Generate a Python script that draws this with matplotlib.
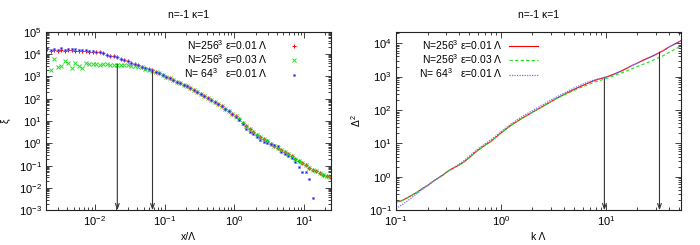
import numpy as np
import matplotlib
matplotlib.use('Agg')
import matplotlib.pyplot as plt
from matplotlib.ticker import LogLocator, LogFormatterMathtext, NullFormatter

plt.rcParams['font.family'] = ['Liberation Sans', 'DejaVu Sans']
plt.rcParams['mathtext.fontset'] = 'custom'
plt.rcParams['mathtext.rm'] = 'Liberation Sans'
plt.rcParams['mathtext.it'] = 'Liberation Sans:italic'
plt.rcParams['mathtext.default'] = 'regular'
plt.rcParams['font.size'] = 7.5

RED = '#ff0000'
GREEN = '#22e022'
BLUE = '#1a1aff'
ARROW = '#333333'

TITLE = 'n=-1 κ=1'
LABELS = [r'N=256$^3$ ε=0.01 Λ', r'N=256$^3$ ε=0.03 Λ', r'N= 64$^3$   ε=0.01 Λ']

# left panel, log10 values
log_x = [-2.68, -2.63, -2.58, -2.53, -2.48, -2.43, -2.38, -2.33, -2.28, -2.23,
         -2.18, -2.13, -2.08, -2.03, -1.98, -1.93, -1.88, -1.83, -1.78, -1.73,
         -1.68, -1.63, -1.58, -1.53, -1.48, -1.43, -1.38, -1.33, -1.28, -1.23,
         -1.18, -1.13, -1.08, -1.03, -0.98, -0.93, -0.88, -0.83, -0.78, -0.73,
         -0.68, -0.63, -0.58, -0.53, -0.48, -0.43, -0.38, -0.33, -0.28, -0.23,
         -0.18, -0.13, -0.08, -0.03, 0.02, 0.07, 0.12, 0.17, 0.22, 0.27,
         0.32, 0.37, 0.42, 0.47, 0.52, 0.57, 0.62, 0.67, 0.72, 0.77,
         0.82, 0.87, 0.92, 0.97, 1.02, 1.07, 1.12, 1.17, 1.22, 1.27,
         1.32, 1.37]

log_xi_256_001 = [4.22, 4.14, 4.16, 4.12, 4.19, 4.14, 4.17, 4.16, 4.15, 4.13,
                  4.13, 4.13, 4.11, 4.11, 4.10, 4.07, 4.03, 3.97, 3.93, 3.89,
                  3.85, 3.79, 3.73, 3.67, 3.60, 3.55, 3.49, 3.43, 3.36, 3.32,
                  3.27, 3.21, 3.14, 3.06, 2.99, 2.91, 2.84, 2.76, 2.69, 2.63,
                  2.55, 2.46, 2.37, 2.28, 2.19, 2.10, 2.01, 1.92, 1.84, 1.75,
                  1.65, 1.55, 1.44, 1.33, 1.22, 1.08, 0.92, 0.78, 0.63, 0.50,
                  0.39, 0.29, 0.18, 0.09, -0.02, -0.13, -0.23, -0.31, -0.40, -0.48,
                  -0.58, -0.69, -0.80, -0.90, -0.99, -1.09, -1.18, -1.25, -1.32, -1.40,
                  -1.46, -1.52]

log_xi_256_003 = [np.nan, 3.30, 3.76, 3.43, 3.45, 3.69, 3.62, 3.37, 3.58, 3.47,
                  3.39, 3.60, 3.55, 3.57, 3.54, 3.53, 3.55, 3.54, 3.53, 3.53,
                  3.53, 3.52, 3.51, 3.50, 3.48, 3.46, 3.43, 3.40, 3.35, 3.30,
                  3.25, 3.20, 3.14, 3.06, 2.99, 2.91, 2.84, 2.76, 2.69, 2.63,
                  2.55, 2.46, 2.37, 2.28, 2.19, 2.10, 2.01, 1.92, 1.84, 1.75,
                  1.65, 1.55, 1.44, 1.33, 1.22, 1.08, 0.92, 0.78, 0.63, 0.50,
                  0.39, 0.29, 0.18, 0.09, -0.02, -0.13, -0.23, -0.31, -0.40, -0.48,
                  -0.58, -0.69, -0.80, -0.90, -0.99, -1.09, -1.18, -1.25, -1.32, -1.40,
                  -1.46, -1.52]

log_xi_64_001 = [4.29, 4.20, 4.23, 4.18, 4.29, 4.20, 4.23, 4.23, 4.21, 4.18,
                 4.17, 4.17, 4.14, 4.13, 4.11, 4.08, 4.04, 3.97, 3.93, 3.89,
                 3.85, 3.79, 3.73, 3.67, 3.60, 3.55, 3.49, 3.43, 3.36, 3.32,
                 3.27, 3.21, 3.14, 3.06, 2.99, 2.91, 2.84, 2.76, 2.69, 2.63,
                 2.55, 2.46, 2.37, 2.28, 2.19, 2.10, 2.01, 1.92, 1.84, 1.75,
                 1.65, 1.55, 1.44, 1.33, 1.20, 1.03, 0.85, 0.65, 0.50, 0.40,
                 0.30, 0.17, 0.07, 0.00, -0.05, -0.09, -0.14, -0.38, -0.47, -0.56,
                 -0.67, -0.85, -1.04, -1.29, -1.29, -1.60, -2.46]

xi_arrow_x = [0.021, 0.067]
xi_arrow_top = [3.6e3, 1.7e3]

# right panel
log_k = [-1.00, -0.95, -0.90, -0.85, -0.80, -0.75, -0.70, -0.65, -0.60, -0.55,
         -0.50, -0.45, -0.40, -0.35, -0.30, -0.25, -0.20, -0.15, -0.10, -0.05,
         0.00, 0.05, 0.10, 0.15, 0.20, 0.25, 0.30, 0.35, 0.40, 0.45,
         0.50, 0.55, 0.60, 0.65, 0.70, 0.75, 0.80, 0.85, 0.90, 0.95,
         1.00, 1.05, 1.10, 1.15, 1.20, 1.25, 1.30, 1.35, 1.40, 1.45,
         1.50, 1.55, 1.60, 1.65, 1.72]

log_d2_256_001 = [-0.75, -0.72, -0.64, -0.55, -0.46, -0.35, -0.26, -0.14, -0.04, 0.06,
                  0.18, 0.27, 0.35, 0.45, 0.58, 0.72, 0.84, 0.95, 1.05, 1.18,
                  1.31, 1.43, 1.55, 1.65, 1.75, 1.84, 1.93, 2.02, 2.11, 2.20,
                  2.29, 2.38, 2.46, 2.54, 2.62, 2.69, 2.76, 2.83, 2.89, 2.94,
                  2.98, 3.04, 3.10, 3.17, 3.25, 3.33, 3.40, 3.48, 3.55, 3.62,
                  3.70, 3.78, 3.88, 3.96, 4.08]

log_d2_256_003 = [-0.75, -0.72, -0.64, -0.55, -0.46, -0.35, -0.26, -0.14, -0.04, 0.06,
                  0.18, 0.27, 0.35, 0.45, 0.58, 0.72, 0.84, 0.95, 1.05, 1.18,
                  1.31, 1.43, 1.55, 1.65, 1.75, 1.84, 1.93, 2.02, 2.11, 2.20,
                  2.29, 2.37, 2.45, 2.52, 2.59, 2.66, 2.72, 2.78, 2.84, 2.89,
                  2.94, 2.99, 3.05, 3.11, 3.17, 3.24, 3.30, 3.36, 3.42, 3.49,
                  3.56, 3.63, 3.72, 3.80, 3.92]

log_d2_64_001 = [-0.95, -0.85, -0.74, -0.62, -0.50, -0.38, -0.27, -0.15, -0.04, 0.07,
                 0.18, 0.28, 0.38, 0.49, 0.62, 0.76, 0.88, 0.99, 1.10, 1.22,
                 1.35, 1.47, 1.59, 1.70, 1.80, 1.89, 1.98, 2.07, 2.16, 2.25,
                 2.34, 2.42, 2.50, 2.58, 2.66, 2.73, 2.80, 2.86, 2.91, 2.95,
                 2.99, 3.04, 3.10, 3.17, 3.25, 3.33, 3.40, 3.48, 3.55, 3.62,
                 3.70, 3.78, 3.88, 3.96, 4.08]

d2_arrow_x = [9.7, 32.5]
d2_arrow_top = [870, 5.4e3]


def style_log_axes(ax):
    for axis in (ax.xaxis, ax.yaxis):
        axis.set_major_locator(LogLocator(base=10, numticks=20))
        axis.set_minor_locator(LogLocator(base=10, subs=np.arange(2, 10), numticks=20))
        axis.set_major_formatter(LogFormatterMathtext())
        axis.set_minor_formatter(NullFormatter())
    ax.tick_params(which='both', direction='in', top=True, right=True,
                   width=0.6, colors='#222222', labelcolor='black', labelsize=8)
    ax.tick_params(which='major', length=4.5, pad=3)
    ax.tick_params(which='minor', length=2.5)
    for s in ax.spines.values():
        s.set_linewidth(0.8)
        s.set_color('#222222')


def draw_arrows(ax, xs, tops, bottom):
    for x, top in zip(xs, tops):
        ax.annotate('', xy=(x, bottom), xytext=(x, top),
                    arrowprops=dict(arrowstyle='->,head_length=0.5,head_width=0.18',
                                    color=ARROW, lw=0.8, shrinkA=0, shrinkB=0))


fig = plt.figure(figsize=(7, 2.45), dpi=100)
ax1 = fig.add_axes([0.0657, 0.1416, 0.407, 0.729])
ax2 = fig.add_axes([0.5657, 0.1416, 0.407, 0.729])

# left: xi(x)
x = 10 ** np.array(log_x)
ax1.plot(x, 10 ** np.array(log_xi_256_001), ls='none', marker='+', ms=2.5, mew=0.7,
         color=RED, label=LABELS[0])
ax1.plot(x, 10 ** np.array(log_xi_256_003), ls='none', marker='x', ms=2.2, mew=0.7,
         color=GREEN, label=LABELS[1])
ax1.plot(x[:len(log_xi_64_001)], 10 ** np.array(log_xi_64_001), ls='none', marker='s',
         ms=1.8, mew=0.4, color=BLUE, mec='#7f7fff', label=LABELS[2])
ax1.set_xscale('log')
ax1.set_yscale('log')
ax1.set_xlim(0.002, 24)
ax1.set_ylim(1e-3, 1e5)
style_log_axes(ax1)
draw_arrows(ax1, xi_arrow_x, xi_arrow_top, 1e-3)
ax1.set_title(TITLE, fontsize=7.5, pad=10)
ax1.set_xlabel('x/Λ', labelpad=3)
ax1.set_ylabel('ξ', labelpad=6)
ax1.legend(loc='upper right', bbox_to_anchor=(0.91, 1.0), frameon=False, markerfirst=False,
           handlelength=1.0, handletextpad=2.0, labelspacing=0.05, borderaxespad=0.2,
           markerscale=1.0, fontsize=7.5)

# right: Delta^2(k)
k = 10 ** np.array(log_k)
ax2.plot(k, 10 ** np.array(log_d2_256_001), color=RED, lw=0.8, label=LABELS[0])
ax2.plot(k, 10 ** np.array(log_d2_256_003), color=GREEN, lw=0.8, ls=(0, (3, 2)), label=LABELS[1])
ax2.plot(k, 10 ** np.array(log_d2_64_001), color='#6f6fff', lw=0.9, ls=(0, (1, 1)), label=LABELS[2])
ax2.set_xscale('log')
ax2.set_yscale('log')
ax2.set_xlim(0.1, 52)
ax2.set_ylim(0.1, 2.2e4)
style_log_axes(ax2)
draw_arrows(ax2, d2_arrow_x, d2_arrow_top, 0.1)
ax2.set_title(TITLE, fontsize=7.5, pad=10)
ax2.set_xlabel('k Λ', labelpad=3)
ax2.set_ylabel('Δ$^2$', labelpad=4)
ax2.legend(loc='upper left', bbox_to_anchor=(0.06, 1.0), frameon=False, markerfirst=False,
           handlelength=2.8, handletextpad=0.6, labelspacing=0.05, borderaxespad=0.2,
           fontsize=7.5)

fig.savefig('out.png', dpi=100)
